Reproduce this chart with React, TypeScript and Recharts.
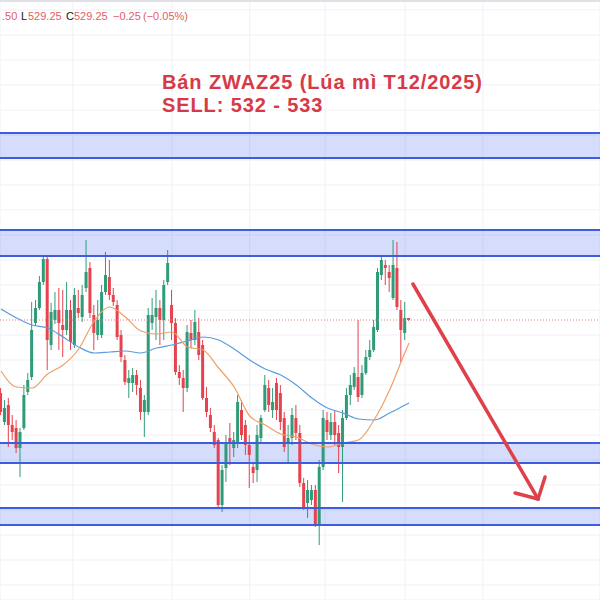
import React from 'react';
import {
  ComposedChart,
  Bar,
  Line,
  XAxis,
  YAxis,
  CartesianGrid,
  ReferenceArea,
  ReferenceLine,
} from 'recharts';

// ---- data ----
const OPEN = [
  526.33, 525.17, 525.85, 525.05, 524.93, 524.13, 524.93, 526.37, 526.97, 529.13,
  529.73, 530.77, 531.69, 528.25, 529.25, 529.65, 529.05, 528.85, 529.65, 528.25,
  529.73, 529.37, 530.53, 531.33, 529.45, 528.65, 528.65, 530.37, 530.97, 530.25,
  529.85, 528.65, 527.65, 526.73, 526.73, 527.05, 526.53, 525.57, 525.57, 529.13,
  529.37, 529.73, 529.25, 530.77, 529.85, 529.13, 527.17, 526.93, 526.53, 528.73,
  528.45, 528.77, 528.25, 526.13, 525.45, 524.77, 524.45, 521.85, 523.33, 524.53,
  524.13, 524.37, 525.65, 525.05, 524.25, 523.37, 523.25, 524.53, 525.65, 526.53,
  525.65, 526.73, 526.33, 525.33, 524.37, 524.53, 525.33, 524.73, 522.73, 521.93,
  522.05, 522.45, 521.05, 523.37, 525.25, 524.65, 525.17, 524.73, 524.17, 525.33,
  526.25, 526.57, 526.97, 526.25, 527.13, 527.77, 528.05, 528.85, 531.05, 531.45,
  531.17, 530.13, 531.33, 529.65, 528.73, 529.33,
];
const HIGH = [
  526.53, 526.05, 526.13, 525.45, 525.25, 524.93, 526.65, 527.13, 529.97, 530.05,
  531.01, 531.81, 531.81, 529.93, 530.37, 530.53, 530.45, 530.77, 530.05, 530.53,
  530.45, 530.65, 532.45, 531.57, 529.85, 530.05, 530.65, 531.97, 531.65, 530.53,
  530.05, 528.85, 527.85, 527.25, 527.33, 527.25, 526.85, 526.25, 529.73, 530.13,
  530.45, 530.05, 530.85, 532.05, 530.45, 529.33, 527.45, 527.25, 529.05, 529.25,
  529.65, 529.33, 528.45, 526.57, 525.73, 525.05, 524.53, 523.45, 524.65, 525.13,
  524.77, 526.25, 526.05, 525.25, 524.65, 523.57, 525.05, 525.45, 527.05, 526.85,
  526.53, 526.93, 526.65, 525.57, 525.05, 525.73, 525.85, 525.05, 522.93, 522.85,
  522.65, 522.65, 523.65, 525.65, 525.57, 525.53, 525.65, 525.05, 525.65, 526.53,
  527.05, 527.37, 529.25, 527.45, 528.05, 528.45, 529.25, 531.33, 531.85, 531.65,
  531.45, 532.45, 532.37, 530.05, 529.97, 529.33,
];
const LOW = [
  525.45, 525.05, 524.17, 524.45, 523.93, 522.97, 524.85, 526.25, 526.85, 529.01,
  529.65, 530.65, 527.25, 528.05, 529.09, 528.05, 527.77, 528.65, 528.05, 528.13,
  529.33, 529.17, 530.37, 529.33, 528.05, 528.45, 528.53, 530.25, 530.05, 529.81,
  528.45, 527.57, 526.65, 526.13, 526.37, 526.25, 525.25, 524.57, 525.45, 528.85,
  528.45, 528.25, 528.45, 530.65, 528.45, 527.05, 526.65, 525.57, 526.37, 528.13,
  528.25, 527.65, 526.05, 525.37, 524.77, 524.13, 521.77, 521.57, 522.77, 523.45,
  523.77, 524.13, 524.45, 523.85, 522.53, 522.73, 522.77, 524.37, 525.57, 525.57,
  525.33, 525.25, 524.85, 523.97, 523.57, 524.25, 524.45, 522.57, 521.65, 521.33,
  521.85, 520.97, 520.25, 523.25, 524.45, 524.45, 524.25, 523.13, 521.97, 525.25,
  525.85, 526.45, 525.97, 526.13, 527.05, 527.65, 527.97, 528.77, 530.85, 530.65,
  530.37, 530.05, 529.65, 527.57, 528.45, 529.21,
];
const CLOSE = [
  525.57, 525.73, 525.05, 524.77, 524.13, 524.77, 526.25, 526.85, 528.85, 529.73,
  530.77, 531.69, 528.45, 529.57, 529.65, 529.13, 528.85, 529.65, 528.37, 530.25,
  529.53, 530.25, 531.17, 529.53, 528.73, 529.25, 530.37, 531.05, 530.25, 529.97,
  528.57, 527.77, 526.77, 526.93, 527.05, 526.65, 525.57, 526.05, 529.45, 529.45,
  529.73, 529.25, 530.65, 531.53, 529.13, 527.17, 526.93, 526.53, 528.77, 528.45,
  529.17, 527.85, 526.13, 525.57, 524.93, 524.25, 521.85, 523.25, 524.37, 524.33,
  524.45, 525.97, 524.65, 524.25, 523.85, 523.13, 524.65, 525.33, 526.65, 525.85,
  525.97, 525.65, 525.17, 524.17, 524.53, 525.45, 524.73, 522.73, 521.77, 522.45,
  522.45, 521.05, 523.37, 525.33, 524.77, 525.17, 524.65, 524.17, 525.33, 526.25,
  526.65, 527.13, 526.17, 527.13, 527.77, 528.05, 528.97, 531.17, 531.65, 531.33,
  530.93, 531.45, 529.77, 528.85, 529.33, 529.25,
];

const MA_IDX = [0, 4, 8, 12, 16, 20, 24, 28, 32, 36, 40, 44, 48, 52, 56, 60, 64, 68, 72, 76, 80, 84, 88, 92, 96, 100, 104, 105];
const MA_FAST = [
  527.21, 526.57, 526.53, 527.09, 527.45, 528.09, 529.21, 529.77, 529.37, 528.81,
  528.69, 528.77, 528.17, 528.05, 527.33, 526.57, 525.41, 525.05, 524.69, 524.57,
  524.29, 524.17, 524.33, 524.45, 525.25, 526.45, 527.97, 528.33,
];
const MA_SLOW = [
  529.69, 529.33, 529.05, 528.93, 528.57, 528.17, 527.93, 527.97, 528.01, 527.93,
  528.13, 528.25, 528.41, 528.57, 528.45, 528.09, 527.65, 527.29, 527.05, 526.65,
  526.13, 525.73, 525.53, 525.29, 525.25, 525.53, 525.85, 525.93,
];

const ZONES: [number, number][] = [
  [535.73, 536.73],
  [531.81, 532.85],
  [523.53, 524.33],
  [521.05, 521.73],
];
const LAST_PRICE = 529.25;
const Y_TICKS = [
  541.65, 540.65, 539.65, 538.65, 537.65, 536.65, 535.65, 534.65, 533.65, 532.65,
  531.65, 530.65, 529.65, 528.65, 527.65, 526.65, 525.65, 524.65, 523.65, 522.65,
  521.65, 520.65, 519.65, 518.65,
];
const X_TICKS = [18.5, 44, 64, 83.4, 104, 124];
const ARROW_SHAFT = [{ x: 106.0, y: 530.69 }, { x: 138.2, y: 522.09 }];
const ARROW_LEFT = [{ x: 132.3, y: 522.33 }, { x: 138.2, y: 522.09 }];
const ARROW_RIGHT = [{ x: 140.0, y: 522.97 }, { x: 138.2, y: 522.09 }];

const TITLE_LINES = ['Bán ZWAZ25 (Lúa mì T12/2025)', 'SELL: 532 - 533'];

const X_DOMAIN = [-0.257, 154.14];
const Y_DOMAIN = [518.05, 542.05];

const GREEN = '#2f9b78';
const RED = '#e5434d';
const ZONE_FILL = '#2f52f0';
const ZONE_LINE = '#3d5ce0';
const ARROW_COLOR = '#e0404a';

const rows = OPEN.map((o, i) => {
  const k = MA_IDX.indexOf(i);
  return {
    idx: i,
    open: o,
    high: HIGH[i],
    low: LOW[i],
    close: CLOSE[i],
    range: [LOW[i], HIGH[i]],
    fast: k >= 0 ? MA_FAST[k] : null,
    slow: k >= 0 ? MA_SLOW[k] : null,
  };
});

const Candle = (props: any) => {
  const { x, y, width, height, payload } = props;
  if (x == null || y == null || !payload) return null;
  const top = Math.min(y, y + height);
  const h = Math.abs(height);
  const span = payload.high - payload.low;
  const k = span > 0 ? h / span : 0;
  const py = (v: number) => top + (payload.high - v) * k;
  const up = payload.close >= payload.open;
  const color = up ? GREEN : RED;
  const cx = x + width / 2;
  const bTop = py(Math.max(payload.open, payload.close));
  const bBot = py(Math.min(payload.open, payload.close));
  const bw = 3;
  return (
    <g>
      <line x1={cx} x2={cx} y1={top} y2={top + h} stroke={color} strokeWidth={1} />
      <rect x={cx - bw / 2} y={bTop} width={bw} height={Math.max(1.5, bBot - bTop)} fill={color} />
    </g>
  );
};

const headerRed = '#e35d68';
const headerDark = '#131722';
const HEADER = [
  { text: '.50', left: 2, color: headerRed },
  { text: 'L', left: 21, color: headerDark },
  { text: '529.25', left: 28, color: headerRed },
  { text: 'C', left: 66, color: headerDark },
  { text: '529.25', left: 74, color: headerRed },
  { text: '\u22120.25', left: 113, color: headerRed },
  { text: '(\u22120.05%)', left: 143, color: headerRed },
];

export default function App() {
  return (
    <div
      style={{
        position: 'absolute',
        left: 0,
        top: 0,
        width: 600,
        height: 600,
        background: '#ffffff',
        overflow: 'hidden',
        fontFamily: '"Liberation Sans", Arial, sans-serif',
      }}
    >
      <ComposedChart width={600} height={600} data={rows} margin={{ top: 0, right: 0, bottom: 0, left: 0 }}>
        <CartesianGrid stroke="#f0f1f4" strokeWidth={1} />
        <XAxis dataKey="idx" type="number" domain={X_DOMAIN} ticks={X_TICKS} hide allowDataOverflow />
        <YAxis type="number" domain={Y_DOMAIN} ticks={Y_TICKS} hide allowDataOverflow />
        <ReferenceLine y={LAST_PRICE} stroke="#ec7a84" strokeDasharray="1 2" strokeWidth={1} />
        <Line type="monotone" dataKey="slow" stroke="#5b9be0" strokeWidth={1.2} dot={false} connectNulls isAnimationActive={false} />
        <Line type="monotone" dataKey="fast" stroke="#efa066" strokeWidth={1.2} dot={false} connectNulls isAnimationActive={false} />
        <Bar dataKey="range" barSize={3} shape={(p: any) => <Candle {...p} />} isAnimationActive={false} />
        {ZONES.map((z, i) => (
          <ReferenceArea key={'za' + i} y1={z[0]} y2={z[1]} fill={ZONE_FILL} fillOpacity={0.2} stroke="none" />
        ))}
        {ZONES.map((z, i) => (
          <ReferenceLine key={'zl' + i} y={z[0]} stroke={ZONE_LINE} strokeWidth={2} />
        ))}
        {ZONES.map((z, i) => (
          <ReferenceLine key={'zh' + i} y={z[1]} stroke={ZONE_LINE} strokeWidth={2} />
        ))}
        <ReferenceLine segment={ARROW_SHAFT} stroke={ARROW_COLOR} strokeWidth={3.5} strokeLinecap="round" />
        <ReferenceLine segment={ARROW_LEFT} stroke={ARROW_COLOR} strokeWidth={3.5} strokeLinecap="round" />
        <ReferenceLine segment={ARROW_RIGHT} stroke={ARROW_COLOR} strokeWidth={3.5} strokeLinecap="round" />
      </ComposedChart>

      <div style={{ position: 'absolute', left: 0, top: 0, width: 600, height: 2, background: '#dfe1e6' }} />
      {HEADER.map((h, i) => (
        <span
          key={i}
          style={{
            position: 'absolute',
            left: h.left,
            top: 11,
            fontSize: 11,
            lineHeight: '11px',
            color: h.color,
            whiteSpace: 'nowrap',
          }}
        >
          {h.text}
        </span>
      ))}
      {TITLE_LINES.map((t, i) => (
        <div
          key={'t' + i}
          style={{
            position: 'absolute',
            left: 162,
            top: 72 + i * 22.5,
            fontSize: 20,
            lineHeight: '20px',
            letterSpacing: '0.9px',
            fontWeight: 700,
            color: '#d63a48',
            whiteSpace: 'nowrap',
          }}
        >
          {t}
        </div>
      ))}
    </div>
  );
}
